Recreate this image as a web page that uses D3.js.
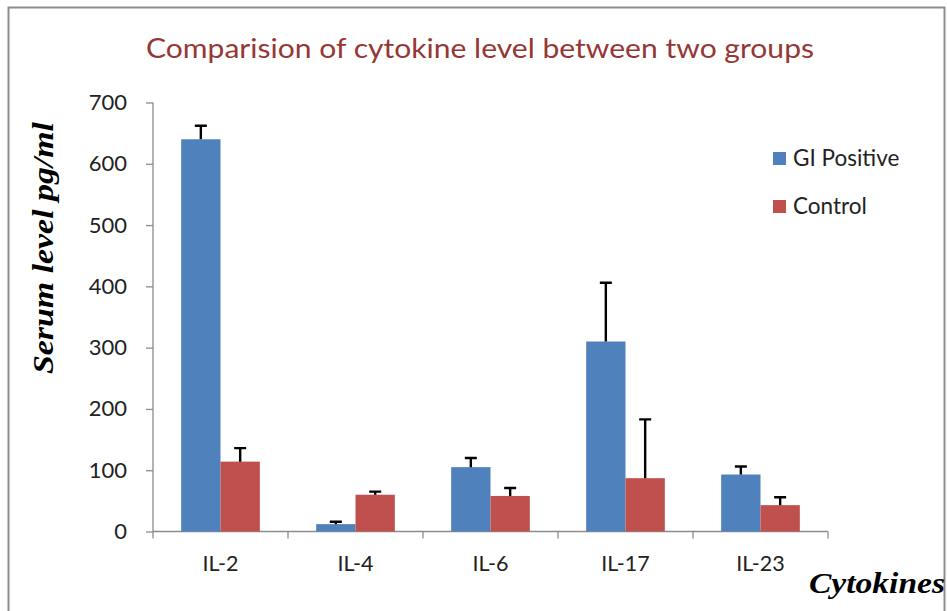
<!DOCTYPE html>
<html>
<head>
<meta charset="utf-8">
<script src="https://cdn.jsdelivr.net/npm/d3@7"></script>
<style>
  body { margin: 0; background: #fff; }
  svg { display: block; }
</style>
</head>
<body>
<svg id="chart" width="947" height="611"></svg>
<script>
// values
var categories = ['IL-2', 'IL-4', 'IL-6', 'IL-17', 'IL-23'];
var seriesNames = ['GI Positive', 'Control'];
var giPositive = [640, 12, 105, 310, 93];
var giPositiveErr = [22, 4, 15, 96, 13];
var control = [114, 60, 58, 87, 43];
var controlErr = [22, 5, 13, 96, 13];
var yTicks = [0, 100, 200, 300, 400, 500, 600, 700];

var colors = ['#4f81bd', '#c0504d'];
var labelFont = 'Lato, "Open Sans", "Noto Sans", sans-serif';
var serifFont = '"Liberation Serif", "DejaVu Serif", serif';

var svg = d3.select('#chart');

// frame round the picture
svg.append('rect')
	.attr('x', 8.5).attr('y', 7.5)
	.attr('width', 936).attr('height', 620)
	.attr('fill', 'none')
	.attr('stroke', '#8c8c8c')
	.attr('stroke-width', 2);

var plot = {left: 153, right: 828, top: 102.5, bottom: 531.5};

var x = d3.scaleBand().domain(categories).range([plot.left, plot.right]).paddingInner(0).paddingOuter(0);
var xSub = d3.scaleBand().domain(seriesNames).range([0, x.bandwidth()]).paddingInner(0).paddingOuter(0.716);
var y = d3.scaleLinear().domain([0, 700]).range([plot.bottom, plot.top]);

// title
svg.append('text')
	.attr('x', 480).attr('y', 58)
	.attr('text-anchor', 'middle')
	.attr('font-family', labelFont)
	.attr('font-size', 27)
	.attr('textLength', 668)
	.attr('lengthAdjust', 'spacingAndGlyphs')
	.attr('fill', '#953735')
	.text('Comparision of cytokine level between two groups');

// y axis
var yAxis = d3.axisLeft(y).tickValues(yTicks).tickSize(7).tickPadding(19).tickFormat(d3.format('d'));
var gy = svg.append('g').attr('transform', 'translate(' + plot.left + ',0)').call(yAxis);
gy.select('.domain').attr('stroke', '#8c8c8c').attr('stroke-width', 1.3).attr('d', 'M0,' + plot.top + 'V' + plot.bottom);
gy.selectAll('.tick line').attr('stroke', '#8c8c8c').attr('stroke-width', 1.3);
gy.selectAll('.tick text').attr('font-family', labelFont).attr('font-size', 22).attr('fill', '#222');

// x axis: ticks between the categories
var xAxis = d3.axisBottom(x).tickSize(0).tickPadding(24);
var gx = svg.append('g').attr('transform', 'translate(0,' + plot.bottom + ')').call(xAxis);
gx.select('.domain').attr('stroke', '#8c8c8c').attr('stroke-width', 1.3).attr('d', 'M' + plot.left + ',0H' + plot.right);
gx.selectAll('.tick text').attr('font-family', labelFont).attr('font-size', 21.5).attr('fill', '#222');
gx.selectAll('.sep')
	.data(categories.concat(['end']))
	.enter().append('line')
	.attr('x1', (d, i) => plot.left + i * x.step())
	.attr('x2', (d, i) => plot.left + i * x.step())
	.attr('y1', 0).attr('y2', 7)
	.attr('stroke', '#8c8c8c').attr('stroke-width', 1.3);

// bars
var rows = categories.map(function (c, i) {
	return {cat: c, vals: [
		{name: seriesNames[0], v: giPositive[i], e: giPositiveErr[i]},
		{name: seriesNames[1], v: control[i], e: controlErr[i]}
	]};
});

var groups = svg.append('g').selectAll('g')
	.data(rows)
	.enter().append('g')
	.attr('transform', d => 'translate(' + x(d.cat) + ',0)');

groups.selectAll('rect')
	.data(d => d.vals)
	.enter().append('rect')
	.attr('x', d => xSub(d.name))
	.attr('width', xSub.bandwidth())
	.attr('y', d => y(d.v))
	.attr('height', d => y(0) - y(d.v))
	.attr('fill', (d, i) => colors[i]);

// error bars, upward only
var capHalf = 6;
groups.selectAll('path.err')
	.data(d => d.vals)
	.enter().append('path')
	.attr('class', 'err')
	.attr('d', function (d) {
		var cx = xSub(d.name) + xSub.bandwidth() / 2;
		return 'M' + cx + ',' + y(d.v) + 'V' + y(d.v + d.e) +
			'M' + (cx - capHalf) + ',' + y(d.v + d.e) + 'H' + (cx + capHalf);
	})
	.attr('stroke', '#000')
	.attr('stroke-width', 2.4)
	.attr('fill', 'none');

// legend
var legend = svg.append('g').attr('transform', 'translate(773,152)');
seriesNames.forEach(function (name, i) {
	legend.append('rect')
		.attr('x', 0).attr('y', i * 48)
		.attr('width', 13).attr('height', 13)
		.attr('fill', colors[i]);
	legend.append('text')
		.attr('x', 20).attr('y', i * 48 + 14)
		.attr('font-family', labelFont)
		.attr('font-size', 22.5)
		.attr('fill', '#222')
		.text(name);
});

// axis titles
svg.append('text')
	.attr('transform', 'translate(53,248) rotate(-90)')
	.attr('text-anchor', 'middle')
	.attr('font-family', serifFont)
	.attr('font-weight', 'bold')
	.attr('font-style', 'italic')
	.attr('font-size', 29)
	.attr('textLength', 252)
	.attr('lengthAdjust', 'spacingAndGlyphs')
	.attr('fill', '#000')
	.text('Serum level pg/ml');

svg.append('text')
	.attr('x', 945).attr('y', 593)
	.attr('text-anchor', 'end')
	.attr('font-family', serifFont)
	.attr('font-weight', 'bold')
	.attr('font-style', 'italic')
	.attr('font-size', 29)
	.attr('textLength', 136)
	.attr('lengthAdjust', 'spacingAndGlyphs')
	.attr('fill', '#000')
	.text('Cytokines');
</script>
</body>
</html>
